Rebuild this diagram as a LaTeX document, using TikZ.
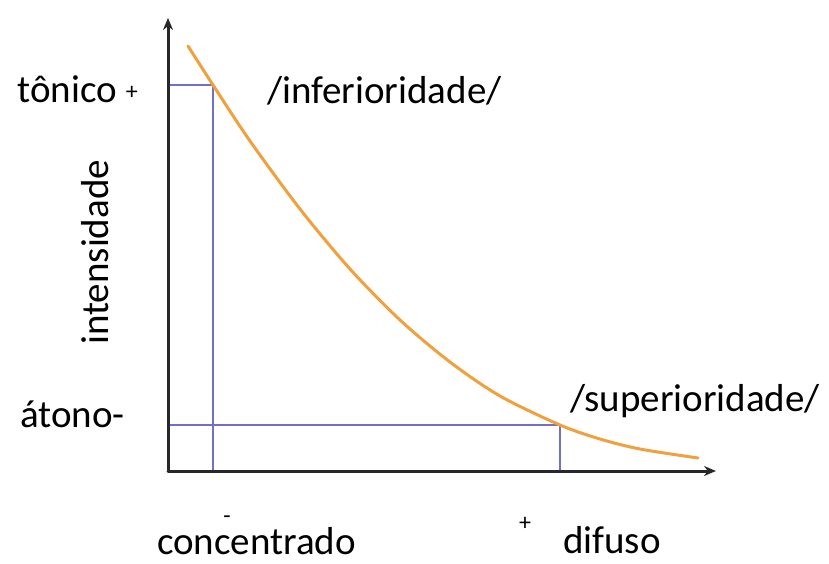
\documentclass[tikz,border=0pt]{standalone}
\usepackage{fontspec}
\setmainfont{Carlito}
\usetikzlibrary{arrows.meta}
\definecolor{eixo}{RGB}{40,40,40}
\definecolor{azul}{RGB}{112,112,200}
\definecolor{laranja}{RGB}{240,160,60}
\begin{document}
\begin{tikzpicture}[x=1pt, y=-1pt, font=\fontsize{39}{47}\selectfont, line join=round, line cap=round, >={Stealth[length=12pt, width=10pt]}]
			\def\sm{\fontsize{24}{24}\selectfont}
			\tikzset{eix/.style={draw=eixo, line width=3pt, ->},
				guia/.style={draw=azul, line width=1.8pt},
				rot/.style={inner sep=0pt, text depth=0pt, anchor=base west}}
			\useasboundingbox (0,0) rectangle (829,563);
			\coordinate (O) at (168,471);
			\coordinate (Y) at (168,18);
			\coordinate (X) at (716,471);
			\coordinate (A) at (213,85);
			\coordinate (B) at (560,425);
			\draw[guia] (O |- A) -- (A) -- (A |- O) (O |- B) -- (B) -- (B |- O);
			\draw[laranja, line width=3pt] plot[smooth] coordinates {(188,46) (A) (250,141) (300,209) (350,269) (400,320) (450,362) (500,396) (B) (600,439) (640,449) (698,458)};
			\draw[eix] (O) -- (Y);
			\draw[eix] (O) -- (X);
			\node[rot, anchor=base east] (ton) at (138,102) {tônico {\sm\raisebox{3pt}{+}}};
			\node[rot] (inf) at (267,103) {/inferioridade/};
			\node[rot, rotate=90] (int) at (108,345) {intensidade};
			\node[rot] (ato) at (20,427) {átono-};
			\node[rot] (sup) at (570,411) {/superioridade/};
			\node[rot] (con) at (157,554) {concentrado};
			\node[inner sep=0pt] (men) at (227,520) {\sm-};
			\node[inner sep=0pt] (mai) at (525,524) {\sm+};
			\node[rot] (dif) at (563,553) {difuso};
		\end{tikzpicture}
\end{document}
